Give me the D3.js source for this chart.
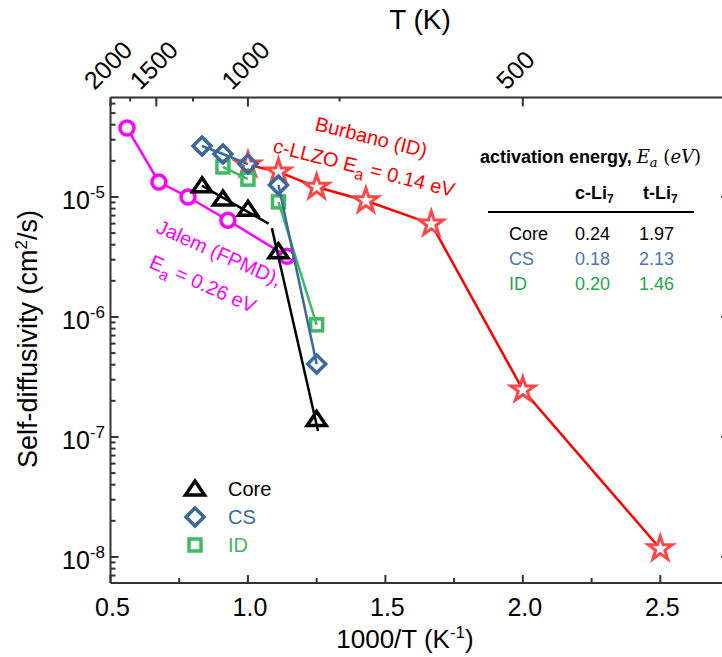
<!DOCTYPE html>
<html>
<head>
<meta charset="utf-8">
<script src="https://cdn.jsdelivr.net/npm/d3@7"></script>
<style>
  html, body { margin: 0; padding: 0; background: #fff; }
  svg { display: block; font-family: "Liberation Sans", Arial, sans-serif; }
</style>
</head>
<body>
<script>
// ---- data: 1000/T (K^-1) and self-diffusivity D (cm^2/s) ----
const invT_core = [0.833, 0.909, 1.0, 1.111, 1.25];
const D_core    = [1.24e-5, 9.6e-6, 7.9e-6, 3.5e-6, 1.4e-7];
const invT_cs   = [0.833, 0.909, 1.0, 1.111, 1.25];
const D_cs      = [2.66e-5, 2.28e-5, 1.88e-5, 1.26e-5, 4.06e-7];
const invT_id   = [0.909, 1.0, 1.111, 1.25];
const D_id      = [1.78e-5, 1.41e-5, 9.1e-6, 8.6e-7];
const invT_jalem = [0.56, 0.676, 0.782, 0.927, 1.142];
const D_jalem    = [3.76e-5, 1.33e-5, 1.0e-5, 6.4e-6, 3.2e-6];
const invT_burbano = [1.0, 1.111, 1.25, 1.429, 1.667, 2.0, 2.5];
const D_burbano    = [1.85e-5, 1.62e-5, 1.21e-5, 9.3e-6, 5.96e-6, 2.47e-7, 1.17e-8];

// Arrhenius fit segments (cubic / tetragonal) for the core region
const fitCoreC_x = [0.833, 1.075];
const fitCoreC_D = [1.24e-5, 6.0e-6];
const fitCoreT_x = [1.087, 1.255];
const fitCoreT_D = [5.5e-6, 1.12e-7];

// axis ticks
const xMajor = [0.5, 1.0, 1.5, 2.0, 2.5];
const xMinor = [0.75, 1.25, 1.75, 2.25];
const tMajor = [2000, 1500, 1000, 500];
const tMinor = [1750, 1250, 750];
const yExp   = [-8, -7, -6, -5];

// activation energy table
const tableRows = ["Core", "CS", "ID"];
const eaCubic   = ["0.24", "0.18", "0.20"];
const eaTetra   = ["1.97", "2.13", "1.46"];

const C = {
  core: "#000000", cs: "#3a6a9c", id: "#3dbb62",
  csText: "#4a76ad", idText: "#1ea84a",
  jalem: "#ff00ff", burbano: "#ff0000", star: "#ff4646", axis: "#333"
};

const W = 722, H = 657;
const svg = d3.select("body").append("svg").attr("width", W).attr("height", H);

const x = d3.scaleLinear().domain([0.5, 2.75]).range([110.5, 729]);
const y = d3.scaleLog().domain([Math.pow(10, -8.217), Math.pow(10, -4.171)]).range([583, 97.5]);
const yTop = y.range()[1], yBot = y.range()[0], xL = x.range()[0], xR = x.range()[1];

const line = d3.line().x(d => x(d[0])).y(d => y(d[1]));
const zip = (a, b) => a.map((v, i) => [v, b[i]]);

// ---- plot ----
const plot = svg.append("g");

// Jalem (FPMD)
plot.append("path").datum(zip(invT_jalem, D_jalem)).attr("d", line)
  .attr("fill", "none").attr("stroke", C.jalem).attr("stroke-width", 2.5);
plot.selectAll(".jalem").data(zip(invT_jalem, D_jalem)).join("circle")
  .attr("cx", d => x(d[0])).attr("cy", d => y(d[1])).attr("r", 7)
  .attr("fill", "#fff").attr("stroke", C.jalem).attr("stroke-width", 3.5);

// Burbano (ID)
const star = d3.symbol().type(d3.symbolStar).size(180);
plot.append("path").datum(zip(invT_burbano, D_burbano)).attr("d", line)
  .attr("fill", "none").attr("stroke", C.burbano).attr("stroke-width", 2.5);
plot.selectAll(".burb").data(zip(invT_burbano, D_burbano)).join("path")
  .attr("d", star).attr("transform", d => `translate(${x(d[0])},${y(d[1])})`)
  .attr("fill", "#fff").attr("stroke", C.star).attr("stroke-width", 3).attr("stroke-linejoin", "miter");

// ID
const idPts = zip(invT_id, D_id);
plot.append("path").datum(idPts.slice(0, 2)).attr("d", line)
  .attr("fill", "none").attr("stroke", C.id).attr("stroke-width", 2.5);
plot.append("path").datum(idPts.slice(2)).attr("d", line)
  .attr("fill", "none").attr("stroke", C.id).attr("stroke-width", 2.5);
plot.selectAll(".id").data(idPts).join("rect")
  .attr("x", d => x(d[0]) - 6).attr("y", d => y(d[1]) - 6).attr("width", 12).attr("height", 12)
  .attr("fill", "none").attr("stroke", C.id).attr("stroke-width", 3.5);

// CS
const csPts = zip(invT_cs, D_cs);
plot.append("path").datum(csPts.slice(0, 3)).attr("d", line)
  .attr("fill", "none").attr("stroke", C.cs).attr("stroke-width", 2.5);
plot.append("path").datum(csPts.slice(3)).attr("d", line)
  .attr("fill", "none").attr("stroke", C.cs).attr("stroke-width", 2.5);
const diamond = "M0,-9L9,0L0,9L-9,0Z";
plot.selectAll(".cs").data(csPts).join("path")
  .attr("d", diamond).attr("transform", d => `translate(${x(d[0])},${y(d[1])})`)
  .attr("fill", "none").attr("stroke", C.cs).attr("stroke-width", 3.5).attr("stroke-linejoin", "miter");

// Core
plot.append("path").datum(zip(fitCoreC_x, fitCoreC_D)).attr("d", line)
  .attr("fill", "none").attr("stroke", C.core).attr("stroke-width", 2.5);
plot.append("path").datum(zip(fitCoreT_x, fitCoreT_D)).attr("d", line)
  .attr("fill", "none").attr("stroke", C.core).attr("stroke-width", 2.5);
const tri = "M0,-8L9.5,6L-9.5,6Z";
plot.selectAll(".core").data(zip(invT_core, D_core)).join("path")
  .attr("d", tri).attr("transform", d => `translate(${x(d[0])},${y(d[1])})`)
  .attr("fill", "none").attr("stroke", C.core).attr("stroke-width", 3.5).attr("stroke-linejoin", "miter");

// ---- axes ----
const ax = svg.append("g").attr("stroke", C.axis).attr("stroke-width", 2).attr("fill", "none");
ax.append("line").attr("x1", xL).attr("x2", xR + 1).attr("y1", yBot).attr("y2", yBot);
ax.append("line").attr("x1", xL).attr("x2", xR + 1).attr("y1", yTop).attr("y2", yTop);
ax.append("line").attr("x1", xL).attr("x2", xL).attr("y1", yTop).attr("y2", yBot);
ax.append("line").attr("x1", xR).attr("x2", xR).attr("y1", yTop).attr("y2", yBot);

// bottom ticks (inward)
xMajor.forEach(v => ax.append("line").attr("x1", x(v)).attr("x2", x(v)).attr("y1", yBot).attr("y2", yBot - 8));
xMinor.forEach(v => ax.append("line").attr("x1", x(v)).attr("x2", x(v)).attr("y1", yBot).attr("y2", yBot - 5));
// top ticks in temperature
tMajor.forEach(t => ax.append("line").attr("x1", x(1000 / t)).attr("x2", x(1000 / t)).attr("y1", yTop).attr("y2", yTop + 9));
tMinor.forEach(t => ax.append("line").attr("x1", x(1000 / t)).attr("x2", x(1000 / t)).attr("y1", yTop).attr("y2", yTop + 4));
// left / right log ticks
const [yLo, yHi] = y.domain();
for (let e = -9; e <= -4; e++) {
  for (let m = 1; m <= 9; m++) {
    const v = m * Math.pow(10, e);
    if (v < yLo || v > yHi) continue;
    const len = m === 1 ? 8 : 5;
    ax.append("line").attr("x1", xL).attr("x2", xL + len).attr("y1", y(v)).attr("y2", y(v));
    ax.append("line").attr("x1", xR).attr("x2", xR - len).attr("y1", y(v)).attr("y2", y(v));
  }
}

// tick labels
const txt = svg.append("g").attr("fill", "#000");
xMajor.forEach(v => txt.append("text").attr("x", x(v) + 2).attr("y", 616)
  .attr("text-anchor", "middle").attr("font-size", 25).text(v.toFixed(1)));

yExp.forEach(e => {
  const t = txt.append("text").attr("x", 105).attr("y", y(Math.pow(10, e)) + 12)
    .attr("text-anchor", "end").attr("font-size", 25);
  t.append("tspan").text("10");
  t.append("tspan").attr("dy", -11).attr("font-size", 17).text(String(e));
});

tMajor.forEach(T => txt.append("text")
  .attr("transform", `translate(${x(1000 / T) - 16},91) rotate(-45)`)
  .attr("font-size", 25).text(T));

// axis titles
const xt = txt.append("text").attr("x", 405).attr("y", 648).attr("text-anchor", "middle").attr("font-size", 26);
xt.append("tspan").text("1000/T (K");
xt.append("tspan").attr("dy", -10).attr("font-size", 17).text("-1");
xt.append("tspan").attr("dy", 10).text(")");

txt.append("text").attr("x", 420).attr("y", 29).attr("text-anchor", "middle").attr("font-size", 28).text("T (K)");

const yt = txt.append("text").attr("transform", "translate(37,339) rotate(-90)")
  .attr("text-anchor", "middle").attr("font-size", 27);
yt.append("tspan").text("Self-diffusivity (cm");
yt.append("tspan").attr("dy", -10).attr("font-size", 17).text("2");
yt.append("tspan").attr("dy", 10).text("/s)");

// ---- annotations ----
svg.append("text").attr("transform", "translate(314,130) rotate(14)")
  .attr("fill", C.burbano).attr("font-size", 20).text("Burbano (ID)");
const cl = svg.append("text").attr("transform", "translate(272,152) rotate(14)")
  .attr("fill", C.burbano).attr("font-size", 20);
cl.append("tspan").text("c-LLZO E");
cl.append("tspan").attr("dy", 6).attr("font-size", 16).text("a");
cl.append("tspan").attr("dy", -6).text(" = 0.14 eV");

svg.append("text").attr("transform", "translate(155,232) rotate(24)")
  .attr("fill", C.jalem).attr("font-size", 20).text("Jalem (FPMD),");
const ja = svg.append("text").attr("transform", "translate(148,267) rotate(24)")
  .attr("fill", C.jalem).attr("font-size", 20);
ja.append("tspan").text("E");
ja.append("tspan").attr("dy", 6).attr("font-size", 16).text("a");
ja.append("tspan").attr("dy", -6).text(" = 0.26 eV");

// ---- legend ----
const legend = [
  { name: "Core", color: C.core, textColor: C.core, shape: tri },
  { name: "CS", color: C.cs, textColor: C.cs, shape: diamond },
  { name: "ID", color: C.id, textColor: C.id, shape: "M-6,-6H6V6H-6Z" }
];
const ly = [489, 517, 545];
legend.forEach((d, i) => {
  svg.append("path").attr("d", d.shape).attr("transform", `translate(195,${ly[i]})`)
    .attr("fill", "none").attr("stroke", d.color).attr("stroke-width", 3.5).attr("stroke-linejoin", "miter");
  svg.append("text").attr("x", 228).attr("y", ly[i] + 7).attr("font-size", 20)
    .attr("fill", d.textColor).text(d.name);
});

// ---- activation energy table ----
const tb = svg.append("g");
const serif = "'DejaVu Serif', 'Liberation Serif', serif";
const title = tb.append("text").attr("x", 480).attr("y", 163).attr("font-size", 18);
title.append("tspan").attr("font-weight", "bold").text("activation energy, ");
title.append("tspan").attr("font-family", serif).attr("font-style", "italic").text("E");
title.append("tspan").attr("font-family", serif).attr("font-style", "italic")
  .attr("font-size", 13).attr("dy", 4).text("a");
title.append("tspan").attr("font-family", serif).attr("dy", -4).text(" (");
title.append("tspan").attr("font-family", serif).attr("font-style", "italic").text("eV");
title.append("tspan").attr("font-family", serif).text(")");

[["c-Li", 575], ["t-Li", 643]].forEach(([h, hx]) => {
  const t = tb.append("text").attr("x", hx).attr("y", 199).attr("font-size", 18).attr("font-weight", "bold");
  t.append("tspan").text(h);
  t.append("tspan").attr("dy", 4).attr("font-size", 12).text("7");
});
tb.append("line").attr("x1", 488).attr("x2", 694).attr("y1", 212).attr("y2", 212)
  .attr("stroke", "#000").attr("stroke-width", 2);

const rowColors = [C.core, C.csText, C.idText];
tableRows.forEach((r, i) => {
  const yy = 240 + i * 25;
  tb.append("text").attr("x", 509).attr("y", yy).attr("font-size", 18).attr("fill", rowColors[i]).text(r);
  tb.append("text").attr("x", 575).attr("y", yy).attr("font-size", 18).attr("fill", rowColors[i]).text(eaCubic[i]);
  tb.append("text").attr("x", 639).attr("y", yy).attr("font-size", 18).attr("fill", rowColors[i]).text(eaTetra[i]);
});
</script>
</body>
</html>
